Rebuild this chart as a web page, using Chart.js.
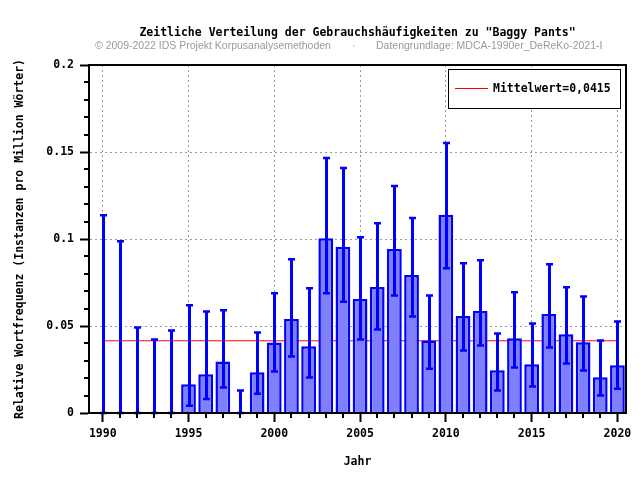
<!DOCTYPE html>
<html>
<head>
<meta charset="utf-8">
<script src="https://cdn.jsdelivr.net/npm/chart.js@4/dist/chart.umd.min.js"></script>
<style>html,body{margin:0;padding:0;background:#fff}</style>
</head>
<body>
<canvas id="chart" width="640" height="480"></canvas>
<script>
const years = [1990, 1991, 1992, 1993, 1994, 1995, 1996, 1997, 1998, 1999,
  2000, 2001, 2002, 2003, 2004, 2005, 2006, 2007, 2008, 2009,
  2010, 2011, 2012, 2013, 2014, 2015, 2016, 2017, 2018, 2019, 2020];
const freq = [0, 0, 0, 0, 0, 0.0165, 0.0223, 0.0296, 0, 0.0234,
  0.0405, 0.054, 0.0384, 0.1005, 0.0955, 0.0655, 0.0724, 0.0943, 0.0793, 0.0417,
  0.1139, 0.0557, 0.0586, 0.0246, 0.043, 0.028, 0.0569, 0.0453, 0.0407, 0.0206, 0.0275];
const errLow = [0, 0, 0, 0, 0, 0.0042, 0.0081, 0.0146, 0, 0.0111,
  0.0238, 0.0325, 0.0204, 0.0688, 0.064, 0.0423, 0.048, 0.0676, 0.0555, 0.0255,
  0.0832, 0.0359, 0.0388, 0.0129, 0.0261, 0.0152, 0.0376, 0.0284, 0.0244, 0.01, 0.014];
const errHigh = [0.1137, 0.0987, 0.0492, 0.0423, 0.0474, 0.0619, 0.0584, 0.059, 0.0129, 0.0463,
  0.0688, 0.0884, 0.0717, 0.1466, 0.1408, 0.101, 0.1091, 0.1304, 0.112, 0.0676,
  0.1552, 0.086, 0.0878, 0.0457, 0.0694, 0.0515, 0.0855, 0.0722, 0.067, 0.0417, 0.0526];
const mean = 0.0415;
const xTicks = [1990, 1995, 2000, 2005, 2010, 2015, 2020];
const yTicks = [0, 0.05, 0.1, 0.15, 0.2];
const yMinorTicks = [0.01, 0.02, 0.03, 0.04, 0.06, 0.07, 0.08, 0.09, 0.11, 0.12, 0.13, 0.14, 0.16, 0.17, 0.18, 0.19];

const MONO = 'bold 11.5px "DejaVu Sans Mono", monospace';
const monoFont = { family: '"DejaVu Sans Mono", monospace', size: 11.5, weight: 'bold' };

// Fehlerbalken über den Säulen
const errorBars = {
  id: 'errorBars',
  afterDatasetsDraw(chart) {
    const { ctx, scales: { x, y } } = chart;
    ctx.save();
    ctx.strokeStyle = '#0000ff';
    years.forEach((yr, i) => {
      const px = Math.round(x.getPixelForValue(yr)) + 0.5;
      const top = y.getPixelForValue(errHigh[i]);
      const bot = y.getPixelForValue(errLow[i]);
      ctx.lineWidth = 3;
      ctx.beginPath();
      ctx.moveTo(px, top);
      ctx.lineTo(px, bot);
      ctx.stroke();
      ctx.lineWidth = 2.5;
      ctx.beginPath();
      ctx.moveTo(px - 3.5, top);
      ctx.lineTo(px + 3.5, top);
      ctx.moveTo(px - 3.5, bot);
      ctx.lineTo(px + 3.5, bot);
      ctx.stroke();
    });
    ctx.restore();
  }
};

// Rahmen, kleine Ticks, Titel und Legende
const decorations = {
  id: 'decorations',
  afterDraw(chart) {
    const { ctx, chartArea: a, scales: { x, y } } = chart;
    ctx.save();
    ctx.strokeStyle = '#000';
    ctx.lineWidth = 2;
    ctx.strokeRect(a.left, a.top, a.right - a.left, a.bottom - a.top);

    ctx.beginPath();
    yMinorTicks.forEach(v => {
      const py = Math.round(y.getPixelForValue(v));
      ctx.moveTo(a.left - 5, py);
      ctx.lineTo(a.left, py);
    });
    years.forEach(yr => {
      if (xTicks.includes(yr)) return;
      const px = Math.round(x.getPixelForValue(yr));
      ctx.moveTo(px, a.bottom);
      ctx.lineTo(px, a.bottom + 5);
    });
    ctx.stroke();

    // Titel
    ctx.fillStyle = '#000';
    ctx.font = MONO;
    ctx.textAlign = 'center';
    ctx.textBaseline = 'middle';
    ctx.fillText('Zeitliche Verteilung der Gebrauchshäufigkeiten zu "Baggy Pants"', (a.left + a.right) / 2, 33);

    ctx.fillStyle = '#999';
    ctx.font = '10.5px "Liberation Sans", Arial, sans-serif';
    ctx.textAlign = 'left';
    ctx.fillText('© 2009-2022 IDS Projekt Korpusanalysemethoden', 95, 46);
    ctx.fillText('·', 352, 46);
    ctx.fillText('Datengrundlage: MDCA-1990er_DeReKo-2021-I', 376, 46);

    // Legende
    ctx.fillStyle = '#fff';
    ctx.fillRect(448.5, 69.5, 172, 39);
    ctx.strokeStyle = '#000';
    ctx.lineWidth = 1;
    ctx.strokeRect(448.5, 69.5, 172, 39);
    ctx.strokeStyle = '#ff0000';
    ctx.beginPath();
    ctx.moveTo(455, 88.5);
    ctx.lineTo(488, 88.5);
    ctx.stroke();
    ctx.fillStyle = '#000';
    ctx.font = MONO;
    ctx.fillText('Mittelwert=0,0415', 493, 89);
    ctx.restore();
  }
};

new Chart(document.getElementById('chart'), {
  type: 'bar',
  data: {
    datasets: [{
      type: 'bar',
      data: years.map((yr, i) => ({ x: yr, y: freq[i] })),
      backgroundColor: '#8080ff',
      borderColor: '#0000ff',
      borderWidth: 2.5,
      barPercentage: 0.86,
      categoryPercentage: 1,
      order: 1
    }, {
      type: 'line',
      data: [{ x: years[0], y: mean }, { x: years[years.length - 1], y: mean }],
      borderColor: '#ff0000',
      borderWidth: 1,
      pointRadius: 0,
      order: 2
    }]
  },
  options: {
    responsive: false,
    animation: false,
    layout: { padding: { top: 65, right: 14, left: 0, bottom: 0 } },
    plugins: { legend: { display: false }, tooltip: { enabled: false }, title: { display: false } },
    scales: {
      x: {
        type: 'linear',
        min: 1989.2,
        max: 2020.5,
        offset: false,
        afterFit: s => { s.height = 67; },
        afterBuildTicks: s => { s.ticks = xTicks.map(v => ({ value: v })); },
        ticks: { color: '#000', font: monoFont, padding: 5, maxRotation: 0, autoSkip: false, callback: v => String(v) },
        grid: { offset: false, color: '#999', lineWidth: 1, tickLength: 9, tickColor: '#000', tickWidth: 2, tickBorderDash: [0, 0] },
        border: { display: true, color: '#000', width: 2, dash: [2, 3] },
        title: { display: true, text: 'Jahr', color: '#000', font: monoFont, padding: { top: 0, bottom: 11 } }
      },
      y: {
        min: 0,
        max: 0.2,
        afterFit: s => { s.width = 89; },
        afterBuildTicks: s => { s.ticks = yTicks.map(v => ({ value: v })); },
        ticks: { color: '#000', font: monoFont, padding: 6, callback: v => String(v) },
        grid: { color: '#999', lineWidth: 1, tickLength: 9, tickColor: '#000', tickWidth: 2, tickBorderDash: [0, 0] },
        border: { display: true, color: '#000', width: 2, dash: [2, 3] },
        title: { display: true, text: 'Relative Wortfrequenz (Instanzen pro Million Wörter)', color: '#000', font: monoFont, padding: { top: 13, bottom: 0 } }
      }
    }
  },
  plugins: [errorBars, decorations]
});
</script>
</body>
</html>
